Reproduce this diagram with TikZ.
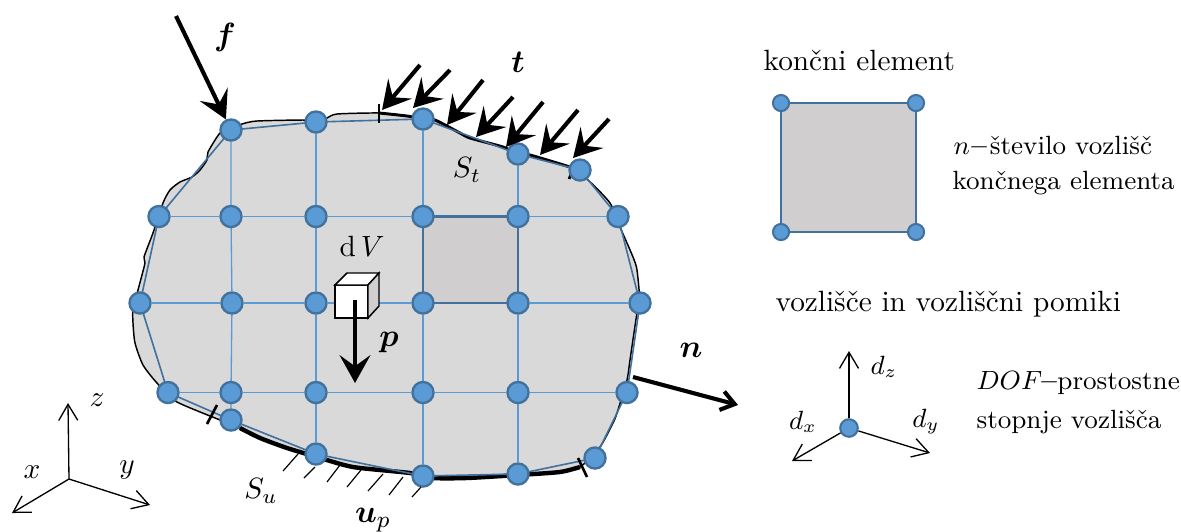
\documentclass[tikz,border=0pt]{standalone}
\usepackage{amsmath,amssymb}
\usetikzlibrary{arrows.meta,backgrounds}
\definecolor{nodeblue}{HTML}{5B9BD5}
\definecolor{edgeblue}{HTML}{41719C}
\definecolor{bodygray}{HTML}{D9D9D9}
\definecolor{elemgray}{HTML}{D0CECE}

\begin{document}
\begin{tikzpicture}[
    x=0.012cm, y=-0.012cm,
    fenode/.style={circle, draw=edgeblue, fill=nodeblue, line width=0.8pt, minimum size=7.2pt, inner sep=0pt},
    elemnode/.style={fenode, line width=0.7pt, minimum size=5.5pt},
    dofnode/.style={fenode, line width=0.7pt, minimum size=6pt},
    label/.style={inner sep=0pt},
    boldlabel/.style={inner sep=0pt, font=\fontsize{11}{13}\selectfont},
    smalllabel/.style={inner sep=0pt, font=\fontsize{9}{11}\selectfont},
    textline/.style={inner sep=0pt, anchor=west},
    smallline/.style={textline, font=\fontsize{9}{11}\selectfont},
    force/.style={-{Stealth[length=9.5pt, width=10.5pt, inset=3.8pt]}, line width=1.4pt},
    normal/.style={-{Straight Barb[length=4.5pt, width=6.5pt]}, line width=1.4pt},
    axis/.style={-{Straight Barb[length=5.5pt, width=6.5pt]}, line width=0.45pt},
    mesh/.style={draw=nodeblue, line width=0.45pt},
    outline/.style={draw=edgeblue, line width=0.55pt},
    element/.style={draw=edgeblue, fill=elemgray, line width=0.9pt},
    tick/.style={line width=0.9pt},
    hatch/.style={line width=0.4pt}
]
\useasboundingbox (0,0) rectangle (1181,531);

% Mesh nodes
\node[fenode] (n11) at (231,130) {};
\node[fenode] (n12) at (316,122) {};
\node[fenode] (n13) at (423,119) {};
\node[fenode] (n14) at (518,154) {};
\node[fenode] (n15) at (580,170) {};
\node[fenode] (n20) at (159,216.5) {};
\node[fenode] (n21) at (231,216.5) {};
\node[fenode] (n22) at (316,216.5) {};
\node[fenode] (n23) at (423,216.5) {};
\node[fenode] (n24) at (518,216.5) {};
\node[fenode] (n25) at (618,216.5) {};
\node[fenode] (n30) at (140,303) {};
\node[fenode] (n31) at (232,303) {};
\node[fenode] (n32) at (316,303) {};
\node[fenode] (n33) at (423,303) {};
\node[fenode] (n34) at (518,303) {};
\node[fenode] (n35) at (640,303) {};
\node[fenode] (n40) at (168,392.5) {};
\node[fenode] (n41) at (231,392.5) {};
\node[fenode] (n42) at (316,392.5) {};
\node[fenode] (n43) at (423,392.5) {};
\node[fenode] (n44) at (518,392.5) {};
\node[fenode] (n45) at (627,392.5) {};
\node[fenode] (n51) at (231,420) {};
\node[fenode] (n52) at (316,454) {};
\node[fenode] (n53) at (423,476) {};
\node[fenode] (n54) at (518,474) {};
\node[fenode] (n55) at (595,458) {};

% Body, boundary and mesh lines
\begin{scope}[on background layer]
\draw[fill=bodygray, line width=0.5pt] plot[smooth cycle, tension=0.4] coordinates {
    (231,129) (242,124) (257,121) (303,120) (316,121) (327,118) (337,114) (380,113) (407,116)
    (423,119) (435,120) (460,133) (470,138) (503,147) (518,154) (530,155) (570,167) (588,180)
    (610,203) (620,227) (633,257) (637,270) (640,303) (637,313) (630,360) (627,380) (617,413)
    (613,423) (600,447) (580,467) (560,472) (518,475) (467,478) (433,478) (410,473) (353,467)
    (317,457) (287,448) (260,438) (240,428) (177,402) (157,383) (143,365) (135,343) (133,323)
    (133,310) (138,290) (145,263) (144,257) (153,233) (163,203) (170,190) (180,182) (192,177)
    (200,170) (207,160) (208,152) (220,133)};
\draw[line width=1pt] plot[smooth, tension=0.4] coordinates {
    (379,113) (407,116) (423,119) (435,120) (460,133) (470,138) (503,147) (518,154) (530,155) (570,167)};
\draw[line width=1.5pt] plot[smooth, tension=0.4] coordinates {
    (240,428) (260,438) (287,448) (317,457) (353,467) (410,473) (433,478) (467,478) (518,475) (560,472) (580,467)};
\draw[mesh] (n11) -- (n21) -- (n31) -- (n41) -- (n51);
\draw[mesh] (n12) -- (n22) -- (n32) -- (n42) -- (n52);
\draw[mesh] (n13) -- (n23) -- (n33) -- (n43) -- (n53);
\draw[mesh] (n14) -- (n24) -- (n34) -- (n44) -- (n54);
\draw[mesh] (n20) -- (n21) -- (n22) -- (n23) -- (n24) -- (n25);
\draw[mesh] (n30) -- (n31) -- (n32) -- (n33) -- (n34) -- (n35);
\draw[mesh] (n40) -- (n41) -- (n42) -- (n43) -- (n44) -- (n45);
\draw[outline] (n11.center) -- (n12.center) -- (n13.center) -- (n14.center) -- (n15.center) -- (n25.center)
    -- (n35.center) -- (n45.center) -- (n55.center) -- (n54.center) -- (n53.center) -- (n52.center)
    -- (n51.center) -- (n40.center) -- (n30.center) -- (n20.center) -- cycle;
\draw[element] (n23.center) -- (n24.center) -- (n34.center) -- (n33.center) -- cycle;
\coordinate (tickTa) at (379,104); \coordinate (tickTb) at (379,123);
\coordinate (tickRa) at (569,179); \coordinate (tickRb) at (576,162);
\coordinate (tickLa) at (217,405); \coordinate (tickLb) at (207,424);
\coordinate (tickBa) at (578,458); \coordinate (tickBb) at (587,477);
\draw[tick] (tickTa) -- (tickTb);
\draw[tick] (tickRa) -- (tickRb);
\draw[tick] (tickLa) -- (tickLb);
\draw[tick] (tickBa) -- (tickBb);
\end{scope}

% Support hatching
\coordinate (h1a) at (298,454); \coordinate (h1b) at (283,471);
\coordinate (h2a) at (315,467); \coordinate (h2b) at (304,478);
\coordinate (h3a) at (340,465); \coordinate (h3b) at (327,482);
\coordinate (h4a) at (361,470); \coordinate (h4b) at (347,487);
\coordinate (h5a) at (383,474); \coordinate (h5b) at (368,491);
\coordinate (h6a) at (403,477); \coordinate (h6b) at (389,495);
\coordinate (h7a) at (421,487); \coordinate (h7b) at (412,497);
\draw[hatch] (h1a) -- (h1b);
\draw[hatch] (h2a) -- (h2b);
\draw[hatch] (h3a) -- (h3b);
\draw[hatch] (h4a) -- (h4b);
\draw[hatch] (h5a) -- (h5b);
\draw[hatch] (h6a) -- (h6b);
\draw[hatch] (h7a) -- (h7b);

% Small volume
\coordinate (cA) at (335,285); \coordinate (cB) at (368,285);
\coordinate (cC) at (368,318); \coordinate (cD) at (335,318);
\coordinate (cE) at (347,273); \coordinate (cF) at (379,273); \coordinate (cG) at (379,306);
\draw[fill=white, line width=0.5pt] (cA) -- (cB) -- (cC) -- (cD) -- cycle;
\draw[fill=white, line width=0.5pt] (cA) -- (cE) -- (cF) -- (cB) -- cycle;
\draw[fill=elemgray, line width=0.5pt] (cB) -- (cF) -- (cG) -- (cC) -- cycle;

% Loads
\coordinate (fa) at (176,16);
\coordinate (pa) at (355,300); \coordinate (pb) at (355,383);
\coordinate (na) at (633,377); \coordinate (nb) at (738,405);
\draw[force] (fa) -- (n11);
\draw[force] (pa) -- (pb);
\draw[normal] (na) -- (nb);
\coordinate (t1a) at (420,65); \coordinate (t1b) at (382,110);
\coordinate (t2a) at (450,70); \coordinate (t2b) at (413,108);
\coordinate (t3a) at (483,80); \coordinate (t3b) at (447,125);
\coordinate (t4a) at (513,97); \coordinate (t4b) at (476,137);
\coordinate (t5a) at (543,102); \coordinate (t5b) at (506,147);
\coordinate (t6a) at (578,110); \coordinate (t6b) at (540,155);
\coordinate (t7a) at (609,119); \coordinate (t7b) at (573,158);
\draw[force] (t1a) -- (t1b);
\draw[force] (t2a) -- (t2b);
\draw[force] (t3a) -- (t3b);
\draw[force] (t4a) -- (t4b);
\draw[force] (t5a) -- (t5b);
\draw[force] (t6a) -- (t6b);
\draw[force] (t7a) -- (t7b);

% Body labels
\node[boldlabel] (lf) at (225,37) {$\boldsymbol{f}$};
\node[boldlabel] (lt) at (518,62) {$\boldsymbol{t}$};
\node[label] (lst) at (467,170) {$S_t$};
\node[label] (ldv) at (362,246) {$\mathrm{d}\,V$};
\node[boldlabel] (lp) at (389,342) {$\boldsymbol{p}$};
\node[boldlabel] (ln) at (691,350) {$\boldsymbol{n}$};
\node[label] (lsu) at (261,491) {$S_u$};
\node[boldlabel] (lup) at (373,520) {$\boldsymbol{u}_p$};

% Global axes
\coordinate (oxyz) at (69,479);
\coordinate (oz) at (68,403); \coordinate (ox) at (12,513); \coordinate (oy) at (150,505);
\draw[axis] (oxyz) -- (oz);
\draw[axis] (oxyz) -- (ox);
\draw[axis] (oxyz) -- (oy);
\node[label] (lz) at (97,400) {$z$};
\node[label] (lx) at (32,472) {$x$};
\node[label] (ly) at (127,470) {$y$};

% Finite element
\node[textline] (helem) at (763,60) {končni element};
\node[elemnode] (e1) at (781,103) {};
\node[elemnode] (e2) at (916,103) {};
\node[elemnode] (e3) at (916,232) {};
\node[elemnode] (e4) at (781,232) {};
\begin{scope}[on background layer]
\draw[element] (e1.center) -- (e2.center) -- (e3.center) -- (e4.center) -- cycle;
\end{scope}
\node[smallline] (tn1) at (953,145) {$n$\kern0.5pt\textbf{--}\kern1pt število vozlišč};
\node[smallline] (tn2) at (952,183) {končnega elementa};

% Node and its displacements
\node[textline] (hdof) at (775,304) {vozlišče in vozliščni pomiki};
\node[dofnode] (dof) at (849,428) {};
\coordinate (dz) at (849,351); \coordinate (dx) at (792,461); \coordinate (dy) at (930,453);
\draw[axis] (dof) -- (dz);
\draw[axis] (dof) -- (dx);
\draw[axis] (dof) -- (dy);
\node[smalllabel] (ldz) at (884,367) {$d_z$};
\node[smalllabel] (ldx) at (803,422) {$d_x$};
\node[smalllabel] (ldy) at (926,422) {$d_y$};
\node[smallline] (td1) at (976,383) {$DOF$\kern-0.3pt\textbf{--}\kern0.2pt prostostne};
\node[smallline] (td2) at (976,422) {stopnje vozlišča};

\end{tikzpicture}
\end{document}
